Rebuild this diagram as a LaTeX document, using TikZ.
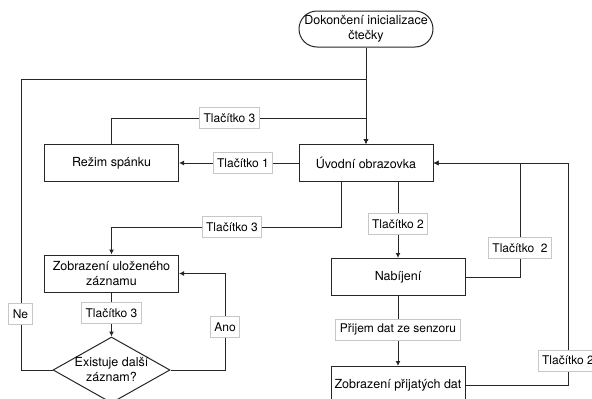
\documentclass[tikz,border=0pt]{standalone}
\usepackage{fontspec}
\setmainfont{TeX Gyre Heros}
\usetikzlibrary{arrows.meta,shapes.geometric}
\begin{document}
\begin{tikzpicture}[x=1pt,y=-1pt,line width=1pt,
  box/.style={draw=black!85,fill=white,minimum width=134pt,minimum height=37pt,
    inner sep=0pt,align=center,font=\fontsize{12.5}{15}\selectfont},
  terminal/.style={box,rounded corners=18pt,minimum height=36pt},
  decision/.style={diamond,draw=black!85,fill=white,minimum width=117pt,
    minimum height=66pt,inner sep=0pt},
  txt/.style={align=center,inner sep=0pt,font=\fontsize{12.5}{15}\selectfont},
  lbl/.style={draw=black!22,fill=white,inner xsep=4pt,inner ysep=0pt,
    minimum height=21pt,font=\fontsize{12}{14}\selectfont},
  arr/.style={draw=black!85,-{Latex[length=5pt,width=5pt]}},
  wire/.style={draw=black!85}]
\useasboundingbox (0,0) rectangle (592,399);

% process nodes
\node[terminal] (start) at (366,29) {Dokončení inicializace\\čtečky};
\node[box] (uvod) at (366,163) {Úvodní obrazovka};
\node[box] (rezim) at (111.5,163) {Režim spánku};
\node[box] (zu) at (111.5,273.5) {Zobrazení uloženého\\záznamu};
\node[decision] (q) at (111.5,370) {};
\node[txt] (qt) at (q.center) {Existuje další\\záznam?};
\node[box] (nab) at (398,277) {Nabíjení};
\node[box] (zp) at (398,385) {Zobrazení přijatých dat};

% bend points
\coordinate (nebend) at (21,79);
\coordinate (sleepbend) at (366,118);

% connectors
\draw[arr] (start) -- (uvod);
\draw[arr] (q.west) -| (nebend) -- (uvod.north |- nebend) -- (uvod.north);
\draw[arr] (rezim.north) |- (sleepbend) -- (uvod.north);
\draw[arr] (uvod.west) -- (rezim.east);
\draw[arr] ([xshift=-25pt]uvod.south) -- ++(0,45) -| (zu.north);
\draw[arr] (uvod.south -| nab.north) -- (nab.north);
\draw[arr] (nab.east) -- ++(55,0) |- (uvod.east);
\draw[arr] (nab.south) -- (zp.north);
\draw[arr] (zp.east) -- ++(103,0) |- (uvod.east);
\draw[arr] (zu.south) -- (q.north);
\draw[arr] (q.east) -- ++(55,0) |- (zu.east);

% connector labels
\node[lbl] (l1) at (229.5,118) {Tlačítko 3};
\node[lbl] (l2) at (243,163) {Tlačítko 1};
\node[lbl] (l3) at (232,227) {Tlačítko 3};
\node[lbl] (l4) at (398,224) {Tlačítko 2};
\node[lbl] (l5) at (520,248) {Tlačítko\ \ 2};
\node[lbl] (l6) at (398,329.5) {Přijem dat ze senzoru};
\node[lbl] (l7) at (568,360.5) {Tlačítko 2};
\node[lbl] (l8) at (111.5,313) {Tlačítko 3};
\node[lbl] (l9) at (225,327) {Ano};
\node[lbl] (l10) at (20.5,314) {Ne};
\end{tikzpicture}
\end{document}
